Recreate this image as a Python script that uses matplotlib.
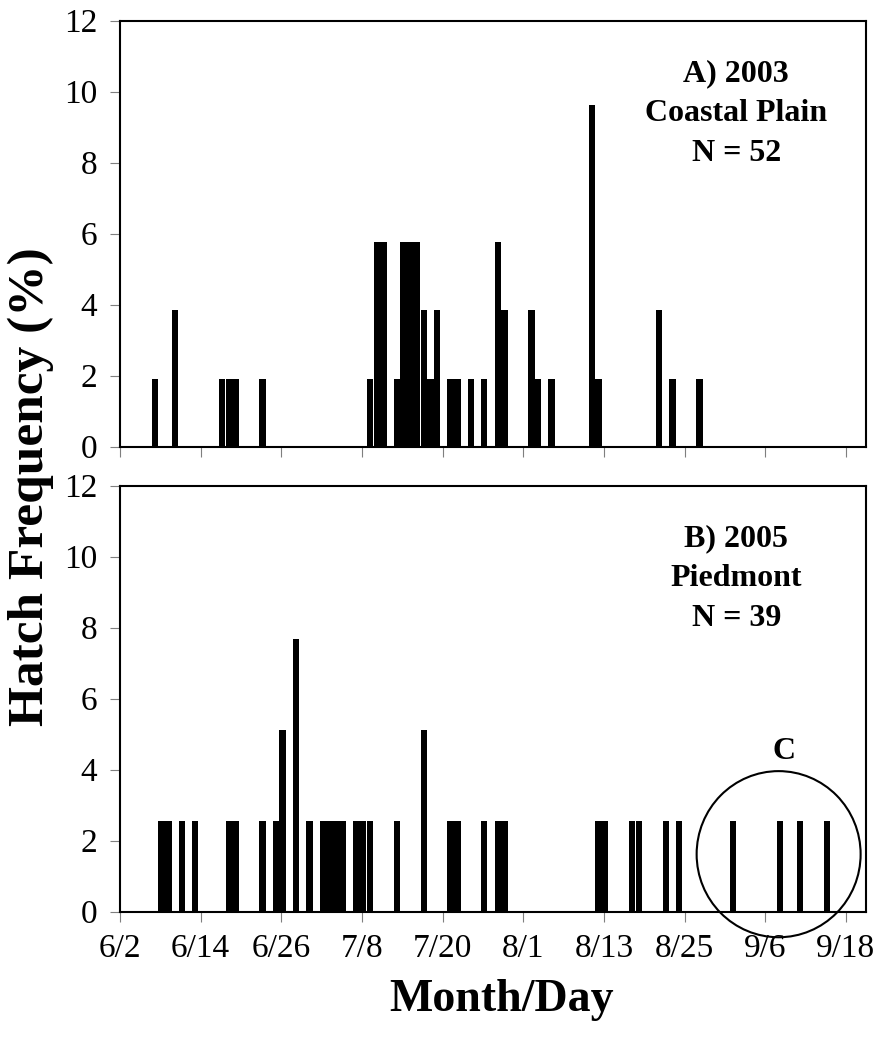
import matplotlib
matplotlib.use("Agg")
import matplotlib.pyplot as plt
from matplotlib.patches import Ellipse

# Days since June 2
days_a = [5, 8, 15, 16, 17, 21, 37, 38, 39, 41, 42, 43, 44, 45, 46, 47, 49, 50,
          52, 54, 56, 57, 61, 62, 64, 70, 71, 80, 82, 86]
freq_a = [1.92, 3.85, 1.92, 1.92, 1.92, 1.92, 1.92, 5.77, 5.77, 1.92, 5.77, 5.77,
          5.77, 3.85, 1.92, 3.85, 1.92, 1.92, 1.92, 1.92, 5.77, 3.85, 3.85, 1.92,
          1.92, 9.62, 1.92, 3.85, 1.92, 1.92]

days_b = [6, 7, 9, 11, 16, 17, 21, 23, 24, 26, 28, 30, 31, 32, 33, 35, 36, 37, 41,
          45, 49, 50, 54, 56, 57, 71, 72, 76, 77, 81, 83, 91, 98, 101, 105]
freq_b = [2.56, 2.56, 2.56, 2.56, 2.56, 2.56, 2.56, 2.56, 5.13, 7.69, 2.56, 2.56,
          2.56, 2.56, 2.56, 2.56, 2.56, 2.56, 2.56, 5.13, 2.56, 2.56, 2.56, 2.56,
          2.56, 2.56, 2.56, 2.56, 2.56, 2.56, 2.56, 2.56, 2.56, 2.56, 2.56]

tick_days = [0, 12, 24, 36, 48, 60, 72, 84, 96, 108]
tick_labels = ["6/2", "6/14", "6/26", "7/8", "7/20", "8/1", "8/13", "8/25", "9/6", "9/18"]
y_ticks = [0, 2, 4, 6, 8, 10, 12]

label_a = ["A) 2003", "Coastal Plain", "N = 52"]
label_b = ["B) 2005", "Piedmont", "N = 39"]

plt.rcParams['font.family'] = ['Liberation Serif', 'DejaVu Serif']

fig = plt.figure(figsize=(8.82, 10.42), dpi=100)
W, H = 882, 1042
def rect(l, t, r, b):
    return [l / W, 1 - b / H, (r - l) / W, (b - t) / H]

ax_a = fig.add_axes(rect(120, 20.5, 866, 446.7))
ax_b = fig.add_axes(rect(120, 485.7, 866, 911.7))

BAR_SHIFT = 0.2  # bars sit slightly right of the day tick in the original
for ax, d, f in [(ax_a, days_a, freq_a), (ax_b, days_b, freq_b)]:
    ax.bar([v + BAR_SHIFT for v in d], f, width=0.95, color='black',
           linewidth=0, align='center')
    ax.set_xlim(0, 111)
    ax.set_ylim(0, 12)
    ax.set_yticks(y_ticks)
    ax.set_xticks(tick_days)
    for s in ax.spines.values():
        s.set_linewidth(1.5)
        s.set_color('black')
    ax.tick_params(axis='both', direction='out', length=7.5, width=0.8,
                   color='#7f7f7f', labelsize=24)
    ax.tick_params(axis='y', pad=9)

ax_a.set_xticklabels([])
ax_b.set_xticklabels(tick_labels)
ax_b.tick_params(axis='x', pad=8)

for ax, lines in [(ax_a, label_a), (ax_b, label_b)]:
    for i, t in enumerate(lines):
        ax.text(0.826, 0.875 - i * 0.093, t, transform=ax.transAxes, ha='center',
                va='center', fontsize=23, fontweight='bold')

ax_b.text(98.8, 4.5, "C", ha='center', va='center', fontsize=23, fontweight='bold')
ax_b.add_patch(Ellipse((98.0, 1.62), 24.4, 4.68, fill=False, edgecolor='black',
                       linewidth=1.5, clip_on=False))

fig.text(31 / W, 1 - 487 / H, "Hatch Frequency (%)", rotation=90, ha='center',
         va='center', fontsize=37, fontweight='bold')
fig.text(502 / W, 1 - 1000 / H, "Month/Day", ha='center', va='center',
         fontsize=33, fontweight='bold')

fig.savefig("out.png", dpi=100)
